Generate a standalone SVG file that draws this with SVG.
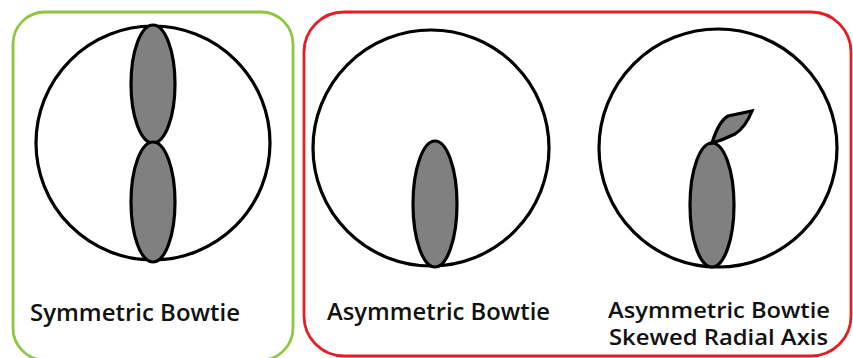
<svg xmlns="http://www.w3.org/2000/svg" width="853" height="358" viewBox="0 0 853 358">
<style>
.frame{fill:none;stroke-width:2.8}
.ring{fill:none;stroke:#000;stroke-width:3.2}
.lobe{fill:#808080;stroke:#000;stroke-width:3.2}
.lbl{font-family:"Open Sans","Liberation Sans",Arial,sans-serif;font-size:23px;font-weight:600;fill:#111}
.sm{font-size:21px}
</style>
<rect width="853" height="358" fill="#fff"/>
<g id="sym-panel">
<rect class="frame" x="13" y="12" width="280" height="348" rx="32" stroke="#8dc63f"/>
</g>
<g id="asym-panel">
<rect class="frame" x="304" y="12" width="547" height="344" rx="40" stroke="#e31e24"/>
</g>
<g id="symmetric">
<circle class="ring" cx="153" cy="143" r="117"/>
<ellipse class="lobe" cx="153" cy="84" rx="22" ry="59"/>
<ellipse class="lobe" cx="153" cy="202" rx="22" ry="60"/>
<text class="lbl" x="30" y="321" textLength="210" lengthAdjust="spacingAndGlyphs">Symmetric Bowtie</text>
</g>
<g id="asymmetric">
<circle class="ring" cx="431" cy="148" r="118"/>
<ellipse class="lobe" cx="435" cy="204" rx="22" ry="63"/>
<text class="lbl" x="327" y="320" textLength="223" lengthAdjust="spacingAndGlyphs">Asymmetric Bowtie</text>
</g>
<g id="skewed">
<circle class="ring" cx="718" cy="148" r="119"/>
<ellipse class="lobe" cx="712" cy="205" rx="22" ry="62"/>
<path class="lobe" d="M712,143 C716,130 721,120 728,116 L752,111 C748,121 743,129 735,134 C727,138 719,141 712,143 Z"/>
<text class="lbl sm" x="608" y="318" textLength="222" lengthAdjust="spacingAndGlyphs">Asymmetric Bowtie</text>
<text class="lbl sm" x="609" y="345" textLength="219" lengthAdjust="spacingAndGlyphs">Skewed Radial Axis</text>
</g>
</svg>
